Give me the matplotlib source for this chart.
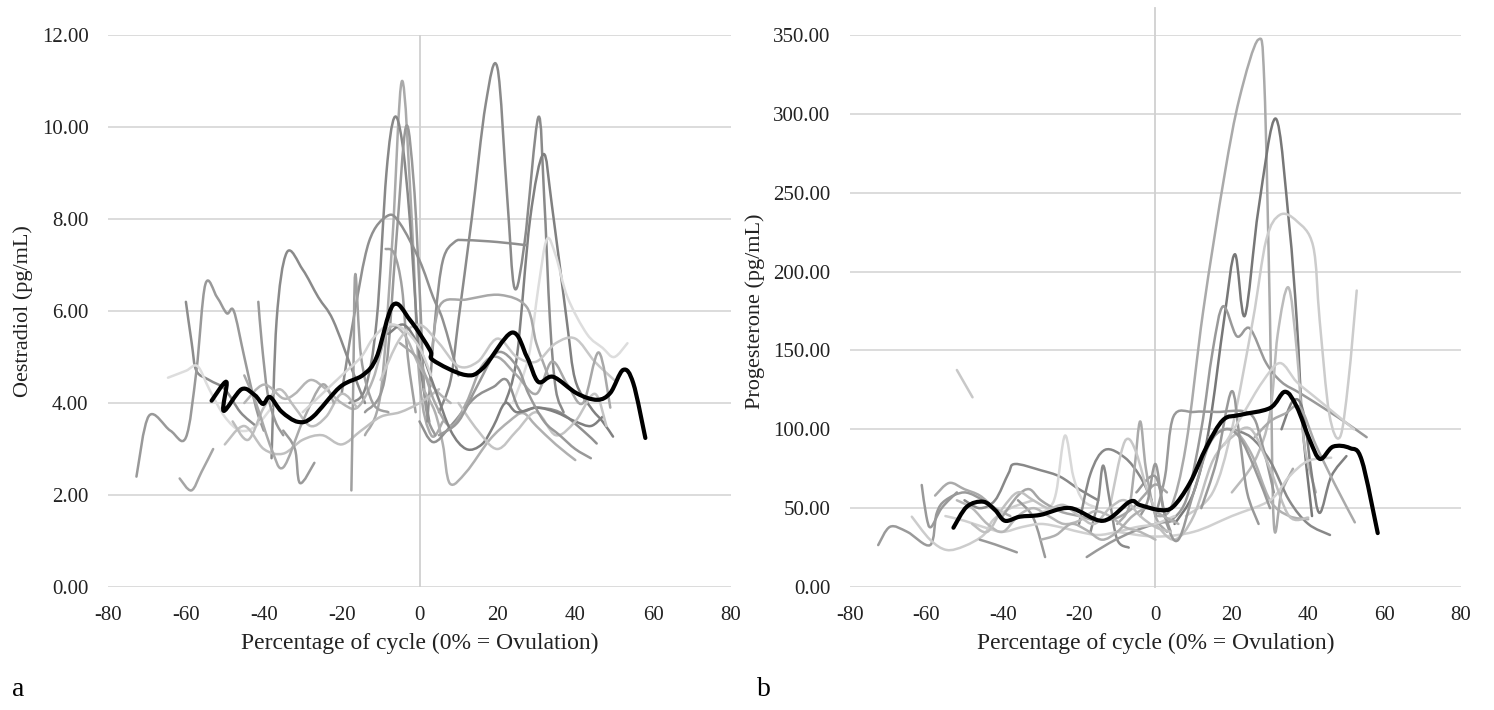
import numpy as np
import matplotlib
matplotlib.use("Agg")
import matplotlib.pyplot as plt
from matplotlib.path import Path
from matplotlib.patches import PathPatch

plt.rcParams['font.family'] = ['Liberation Serif', 'DejaVu Serif']

############## data: panel a, oestradiol (pg/mL) vs % of cycle
oes_mean_x = [-53.4, -49.6, -50.3, -45.7, -42.3, -40.2, -38.4, -35.4, -31.2, -27.4, -20.4, -14.5, -11.0,
              -6.8, -2.4, 2.7, 3.5, 11.7, 16.3, 23.7, 27.6, 30.5, 34.3, 40.4, 45.6, 49.0, 52.3, 54.9, 58.0]
oes_mean_y = [4.05, 4.46, 3.83, 4.30, 4.17, 3.98, 4.13, 3.81, 3.59, 3.70, 4.35, 4.61, 5.00,
              6.13, 5.80, 5.15, 4.93, 4.61, 4.76, 5.53, 5.00, 4.46, 4.57, 4.21, 4.07, 4.22, 4.72, 4.43, 3.24]

# individual women: (x, y, grey)
oes_lines = [
    ([-14, -10, -7, -4.5, -2, 0, 3, 6], [3.3, 4.2, 7.5, 11.0, 8.0, 4.5, 3.3, 3.6], '#aaaaaa'),
    ([-18, -14, -11, -8.5, -6.5, -4.5, -2.5, 0, 2.5], [4.0, 4.3, 5.8, 9.0, 10.2, 9.7, 8.0, 5.0, 3.6], '#888888'),
    ([-14, -9, -6, -3.5, -1.5, 0, 1.5, 4], [3.8, 4.5, 7.5, 10.0, 8.8, 6.5, 4.0, 3.3], '#999999'),
    ([-20, -17, -13, -8.2, -5, 0, 3.5, 6, 10], [4.2, 5.8, 7.5, 8.07, 7.9, 7.1, 6.3, 5.8, 4.6], '#909090'),
    ([-8.7, -6.5, -4.5, -3, -1], [7.35, 7.25, 6.5, 5.0, 3.8], '#a0a0a0'),
    ([-38, -36.7, -34.1, -30, -26, -22.2, -17, -14], [2.8, 5.8, 7.27, 6.9, 6.3, 5.8, 4.65, 4.0], '#8a8a8a'),
    ([-60, -58.5, -57.3, -54, -50, -46, -42], [6.2, 5.3, 4.7, 4.5, 4.3, 3.8, 3.5], '#8c8c8c'),
    ([-72.7, -69.5, -64, -60, -57.3, -55, -52, -49.5, -47.7, -45, -42, -40],
     [2.4, 3.72, 3.4, 3.25, 4.7, 6.58, 6.3, 5.95, 6.0, 5.0, 3.9, 3.4], '#999999'),
    ([-61.6, -58.6, -56, -53], [2.36, 2.1, 2.5, 3.0], '#a5a5a5'),
    ([-64.6, -60, -57, -54, -50, -46, -42, -38], [4.55, 4.7, 4.8, 4.3, 3.7, 3.4, 3.5, 3.9], '#dddddd'),
    ([-41.4, -40.5, -39, -37, -35], [6.2, 5.3, 4.2, 3.6, 3.3], '#999999'),
    ([5, 8, 10, 13.4, 17, 20, 22.5, 24.4, 27, 30.5, 32, 33.5, 35, 37],
     [3.8, 4.5, 5.8, 8.0, 10.5, 11.29, 8.5, 6.5, 7.5, 10.21, 8.5, 5.8, 4.3, 3.8], '#8a8a8a'),
    ([22, 25, 28.4, 31.8, 34, 37.8, 40, 44, 47, 49.7], [4.0, 5.0, 8.0, 9.41, 8.3, 5.8, 4.5, 3.9, 3.6, 3.27], '#808080'),
    ([2, 4, 6, 9, 12, 20, 27.5], [3.6, 5.8, 7.1, 7.5, 7.54, 7.5, 7.43], '#8f8f8f'),
    ([24, 28, 30.5, 32.7, 35, 38, 43, 47, 50, 53.4], [4.0, 5.0, 6.5, 7.56, 7.2, 6.3, 5.5, 5.2, 5.0, 5.3], '#dddddd'),
    ([3, 5.3, 12, 20.7, 27.5, 30, 33], [5.0, 6.13, 6.25, 6.35, 6.09, 5.3, 4.6], '#a8a8a8'),
    ([1, 4, 6, 7.8, 12, 18, 23, 26.6, 30, 35, 40], [4.3, 3.8, 3.1, 2.25, 2.5, 3.2, 3.6, 3.78, 3.5, 3.1, 2.76], '#b0b0b0'),
    ([0, 3.5, 8, 14, 19, 22.4, 25.8, 30, 36, 42, 45.5], [3.6, 3.15, 3.5, 4.1, 4.35, 4.5, 3.85, 3.9, 3.8, 3.4, 3.12], '#909090'),
    ([-50, -45, -40, -35, -30, -25, -20, -15, -10, -5, 0, 5],
     [3.1, 3.5, 3.0, 2.9, 3.2, 3.3, 3.1, 3.4, 3.7, 3.8, 4.0, 4.3], '#c0c0c0'),
    ([-45, -40, -35, -32, -28, -24, -20, -16, -12, -8, -4, 0, 4, 8],
     [4.0, 4.4, 4.1, 4.2, 4.5, 4.3, 4.0, 3.9, 4.5, 5.6, 5.5, 4.8, 4.3, 4.0], '#b5b5b5'),
    ([-35, -32, -30.7, -27], [3.4, 3.0, 2.26, 2.7], '#9a9a9a'),
    ([-17.5, -17, -16.5, -15, -12, -8], [2.1, 4.5, 6.8, 5.0, 4.0, 3.8], '#a0a0a0'),
    ([-10, -5, 0, 5, 10, 15, 20, 25, 30, 35, 40, 45, 50],
     [4.5, 5.4, 5.7, 5.3, 4.8, 4.9, 5.4, 5.0, 4.9, 5.3, 5.4, 4.9, 4.5], '#c8c8c8'),
    ([-5, 0, 4, 8, 12, 16, 20, 25, 30, 34, 38, 42, 46, 49],
     [5.3, 4.9, 4.0, 3.5, 4.0, 4.8, 5.0, 4.6, 4.2, 4.9, 4.4, 4.0, 5.1, 3.9], '#a8a8a8'),
    ([-8, -4, 0, 4, 8, 12, 16, 19, 22, 25, 30, 35, 40, 44, 47],
     [5.5, 5.7, 5.2, 4.3, 3.4, 3.0, 3.1, 3.5, 4.0, 3.8, 3.9, 3.8, 3.6, 3.5, 3.7], '#7f7f7f'),
    ([-48, -44, -40, -36, -32, -28, -24, -20, -16], [3.6, 3.2, 3.9, 4.3, 3.9, 3.5, 3.7, 4.2, 3.9], '#bdbdbd'),
    ([-45, -42, -38, -35, -30, -25, -22], [4.6, 4.0, 3.0, 2.6, 3.6, 4.4, 4.0], '#a9a9a9'),
    ([10, 15, 20, 25, 30, 35, 40, 45, 48], [4.0, 3.4, 3.0, 3.4, 3.8, 3.3, 3.6, 4.2, 3.5], '#c4c4c4'),
    ([5, 10, 15, 20, 25, 28, 32, 36, 40, 44], [3.3, 3.6, 4.4, 5.1, 4.8, 4.2, 3.6, 3.3, 3.0, 2.8], '#999999'),
    ([-30, -25, -20, -15, -12, -8, -4, 0, 3], [3.8, 4.2, 4.6, 5.0, 5.4, 5.7, 5.6, 5.2, 4.6], '#d5d5d5'),
]

############## data: panel b, progesterone (pg/mL)
pro_mean_x = [-52.9, -49.4, -45.1, -42.0, -39.4, -35.5, -30.2, -22.4, -13.7, -6.7, -4.1, 1.2, 4.6, 9.0,
              13.4, 17.7, 22.1, 30.0, 33.9, 37.0, 40.4, 43.1, 46.5, 50.9, 54.0, 58.2]
pro_mean_y = [37.6, 50.9, 54.1, 48.8, 42.0, 44.6, 45.7, 50.1, 42.0, 54.1, 52.0, 48.8, 50.9, 65.9,
              89.0, 105.9, 109.1, 113.5, 123.8, 114.3, 93.2, 81.2, 89.0, 88.1, 80.5, 34.2]

pro_lines = [
    ([0, 4, 8, 12.5, 18, 22, 26.9, 28.5, 30, 31, 33, 36], [45, 50, 90, 175, 260, 310, 347, 320, 169, 40, 60, 75], '#aaaaaa'),
    ([5, 10, 14, 18, 20.8, 23.4, 27, 31.5, 35, 37, 38.6, 41], [40, 60, 100, 170, 211, 172, 240, 297, 230, 169, 100, 45], '#777777'),
    ([3, 8, 12, 15, 17.7, 21.3, 24.7, 29, 33, 37.8, 45, 50, 55.3],
     [40, 55, 100, 150, 178, 159, 164, 142, 130, 123, 112, 104, 95], '#999999'),
    ([8, 15, 20, 25.5, 29, 32.6, 37, 41.3, 43, 45.5, 48.3, 50.5, 52.7],
     [45, 60, 100, 169, 220, 236, 232, 216, 169, 110, 95, 130, 188], '#cccccc'),
    ([20, 26, 30, 32, 34.8, 37, 39, 42], [60, 80, 110, 160, 190, 150, 90, 60], '#bbbbbb'),
    ([-52, -47.9], [137.6, 120.3], '#c8c8c8'),
    ([0, 2.5, 4.7, 10, 16, 24.7, 28, 31], [45, 70, 108, 111, 111, 110, 90, 60], '#999999'),
    ([33, 36, 38.6, 41, 43, 46, 50], [100, 118, 112, 70, 47, 70, 83], '#808080'),
    ([26, 30, 34, 37.8, 42, 47, 52.2], [95, 105, 110, 114, 90, 65, 41], '#aaaaaa'),
    ([20, 25, 30, 35, 40, 45.7], [100, 95, 80, 55, 40, 33], '#888888'),
    ([14, 20, 25, 30, 35, 40], [95, 100, 85, 55, 45, 43], '#b0b0b0'),
    ([-10, 0, 10, 20, 30, 35, 40, 46], [35, 32, 35, 45, 55, 70, 80, 82], '#d0d0d0'),
    ([0, 5, 10, 15, 20, 25, 30, 35, 40], [40, 30, 45, 80, 95, 100, 75, 45, 44], '#c0c0c0'),
    ([-5, 0, 3, 6, 10, 14, 18, 22, 26, 30], [60, 70, 40, 30, 60, 90, 100, 95, 75, 50], '#999999'),
    ([-72.6, -69.5, -65, -59, -57.3, -55, -50, -45], [26.6, 38.2, 35, 26.6, 46.7, 55, 60, 55], '#9a9a9a'),
    ([-61.2, -60, -58.8, -56, -52], [64.7, 45, 38, 50, 60], '#999999'),
    ([-57.7, -54, -50, -46, -42, -38], [58, 66, 62, 58, 50, 45], '#aaaaaa'),
    ([-63.8, -59, -54.7, -50, -45, -42.5, -38, -32], [44.6, 30, 23.5, 26, 33, 42.5, 50, 55], '#cccccc'),
    ([-50, -46, -42, -38.5, -36.8, -30, -25, -20, -15], [55, 50, 55, 72, 78, 74, 70, 62, 55], '#888888'),
    ([-32, -28, -26, -23.7, -21.5, -19, -15], [45, 50, 60, 96, 70, 55, 50], '#d8d8d8'),
    ([-20, -17, -13.2, -8, -4, -1], [40, 72, 87, 82, 70, 55], '#888888'),
    ([-10, -7, -5.5, -4, -2.5, 0, 3], [40, 50, 75, 105, 75, 45, 35], '#aaaaaa'),
    ([-12, -9, -7.2, -5, -2, 0], [50, 85, 94, 85, 60, 50], '#c8c8c8'),
    ([-17, -15, -13.7, -12, -10, -7], [35, 55, 77, 55, 30, 25], '#8a8a8a'),
    ([-18, -12, -6, 0, 5], [19, 28, 35, 40, 42], '#999999'),
    ([-46, -42, -36.3], [30, 27, 22], '#999999'),
    ([-36, -32, -28.9], [55, 44, 19], '#999999'),
    ([-55, -50, -45, -40, -35, -30, -25, -20, -15, -10, -5, 0, 5],
     [45, 42, 38, 35, 38, 40, 38, 35, 33, 35, 38, 40, 45], '#d0d0d0'),
    ([-52, -48, -44, -40, -36, -32, -28, -24, -20, -16, -12, -8, -4, 0],
     [55, 50, 40, 35, 45, 50, 45, 40, 42, 48, 45, 38, 35, 30], '#b8b8b8'),
    ([-40, -36, -33, -30, -25, -20, -15, -10, -6, -3, 0, 3], [45, 58, 62, 55, 48, 45, 42, 44, 50, 58, 65, 60], '#a5a5a5'),
    ([-4, -2, 0, 2, 4], [45, 55, 78, 50, 35], '#999999'),
    ([12, 16, 19.9, 22, 24, 27], [50, 80, 124, 95, 60, 40], '#999999'),
    ([18, 23, 28, 32.6, 37, 42, 47, 52], [90, 110, 130, 142, 130, 120, 110, 100], '#d0d0d0'),
    ([-48, -44, -40, -36, -32, -28, -24, -20, -16, -12, -8, -4, 0, 4],
     [40, 35, 50, 60, 55, 50, 52, 45, 40, 50, 55, 45, 38, 35], '#c0c0c0'),
    ([-30, -26, -22, -18, -14, -10, -6, -2, 2, 6], [30, 33, 40, 36, 30, 35, 45, 50, 45, 40], '#b0b0b0'),
]

x_ticks = [-80, -60, -40, -20, 0, 20, 40, 60, 80]


def smooth_line(ax, xs, ys, color, lw, z=2):
    # Excel-style smoothed line: Catmull-Rom segments as cubic Beziers
    p = np.column_stack([xs, ys]).astype(float)
    n = len(p)
    verts = [p[0]]
    codes = [Path.MOVETO]
    for i in range(n - 1):
        p0 = p[i - 1] if i > 0 else p[i]
        p3 = p[i + 2] if i + 2 < n else p[i + 1]
        c1 = p[i] + (p[i + 1] - p0) / 6.0
        c2 = p[i + 1] - (p3 - p[i]) / 6.0
        verts += [c1, c2, p[i + 1]]
        codes += [Path.CURVE4] * 3
    ax.add_patch(PathPatch(Path(verts, codes), fill=False, edgecolor=color, lw=lw,
                           zorder=z, capstyle='round', joinstyle='round'))


def setup(ax, ymax, ystep, ylabel):
    ax.set_xlim(-80, 80)
    ax.set_ylim(0, ymax)
    ax.set_xticks(x_ticks)
    ax.set_xticklabels([str(t) for t in x_ticks])
    yt = np.arange(0, ymax + 0.001, ystep)
    ax.set_yticks(yt)
    ax.set_yticklabels(['%.2f' % v for v in yt])
    for s in ax.spines.values():
        s.set_visible(False)
    ax.tick_params(length=0, labelsize=15, colors='#222222')
    ax.tick_params(axis='y', pad=14)
    ax.tick_params(axis='x', pad=14)
    ax.grid(axis='y', color='#d9d9d9', lw=1.3, zorder=0)
    ax.set_axisbelow(True)
    ax.set_xlabel('Percentage of cycle (0% = Ovulation)', fontsize=17, labelpad=5, color='#222222')
    ax.set_ylabel(ylabel, fontsize=16, labelpad=6, color='#222222')


fig = plt.figure(figsize=(14.94, 7.10), dpi=100)
ax1 = fig.add_axes([0.0723, 0.1732, 0.417, 0.7775])
ax2 = fig.add_axes([0.5689, 0.1732, 0.409, 0.7775])

setup(ax1, 12, 2, 'Oestradiol (pg/mL)')
setup(ax2, 350, 50, 'Progesterone (pg/mL)')

ax1.plot([0, 0], [0, 12], color='#d0d0d0', lw=1.3, zorder=1)
ax2.plot([0, 0], [0, 367], color='#d0d0d0', lw=1.3, zorder=1, clip_on=False)

for xs, ys, c in oes_lines:
    smooth_line(ax1, xs, ys, c, 1.8)
smooth_line(ax1, oes_mean_x, oes_mean_y, '#000000', 3.0, z=5)

for xs, ys, c in pro_lines:
    smooth_line(ax2, xs, ys, c, 1.8)
smooth_line(ax2, pro_mean_x, pro_mean_y, '#000000', 3.0, z=5)

fig.text(12 / 1494, 1 - 690 / 710, 'a', fontsize=20, va='center', ha='left')
fig.text(757 / 1494, 1 - 690 / 710, 'b', fontsize=20, va='center', ha='left')

fig.savefig('out.png', dpi=100, facecolor='white')
